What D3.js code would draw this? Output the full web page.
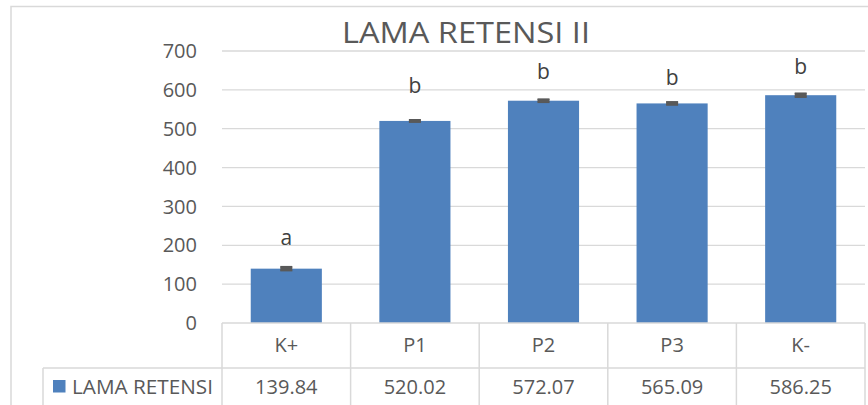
<!DOCTYPE html>
<html>
<head>
<meta charset="utf-8">
<script src="https://cdn.jsdelivr.net/npm/d3@7"></script>
<style>
  body { margin: 0; background: #fff; }
  svg { display: block; font-family: "Open Sans", sans-serif; }
</style>
</head>
<body>
<div id="chart"></div>
<script>
// data
const categories = ["K+", "P1", "P2", "P3", "K-"];
const values = [139.84, 520.02, 572.07, 565.09, 586.25];
const errors = [5, 3, 4, 4, 5];
const letters = ["a", "b", "b", "b", "b"];
// where each letter's baseline sits, in axis units (placed by hand in the original)
const letterAt = [200, 591, 628, 612, 640];
const yTicks = [0, 100, 200, 300, 400, 500, 600, 700];
const seriesName = "LAMA RETENSI";
const title = "LAMA RETENSI II";

const W = 868, H = 405;
const grid = "#d9d9d9", text = "#595959", bar = "#4f81bd";

const svg = d3.select("#chart").append("svg")
    .attr("width", W)
    .attr("height", H);

// outer chart frame
svg.append("path")
    .attr("d", `M11,${H}V6.5H${W}`)
    .attr("fill", "none")
    .attr("stroke", grid)
    .attr("stroke-width", 1.5);

const x = d3.scaleBand().domain(categories).range([222, 865]);
const y = d3.scaleLinear().domain([0, 700]).range([323, 51]);

// gridlines
svg.append("g")
    .selectAll("line")
    .data(yTicks.filter(d => d > 0))
    .join("line")
    .attr("x1", 222)
    .attr("x2", 865)
    .attr("y1", d => y(d))
    .attr("y2", d => y(d))
    .attr("stroke", grid)
    .attr("stroke-width", 1.3);

// y tick labels
svg.append("g")
    .selectAll("text")
    .data(yTicks)
    .join("text")
    .attr("x", 197)
    .attr("y", d => y(d))
    .attr("dy", "0.36em")
    .attr("text-anchor", "end")
    .attr("fill", text)
    .attr("font-size", 20)
    .text(d => d);

// bars
const bw = x.bandwidth() * 0.553;
svg.append("g")
    .selectAll("rect")
    .data(values)
    .join("rect")
    .attr("x", (d, i) => x(categories[i]) + (x.bandwidth() - bw) / 2)
    .attr("y", d => y(d))
    .attr("width", bw)
    .attr("height", d => y(0) - y(d))
    .attr("fill", bar);

// error bars
const eb = svg.append("g")
    .attr("stroke", "#595959")
    .attr("stroke-width", 1.6);
values.forEach((v, i) => {
    const cx = x(categories[i]) + x.bandwidth() / 2;
    eb.append("line")
        .attr("x1", cx).attr("x2", cx)
        .attr("y1", y(v + errors[i])).attr("y2", y(v - errors[i]));
    [v + errors[i], v - errors[i]].forEach(e => {
        eb.append("line")
            .attr("x1", cx - 6).attr("x2", cx + 6)
            .attr("y1", y(e)).attr("y2", y(e));
    });
    eb.append("rect")
        .attr("x", cx - 6)
        .attr("y", y(v + errors[i]))
        .attr("width", 12)
        .attr("height", y(v - errors[i]) - y(v + errors[i]))
        .attr("fill", "#595959")
        .attr("stroke", "none");
});

// significance letters
svg.append("g")
    .selectAll("text")
    .data(letters)
    .join("text")
    .attr("x", (d, i) => x(categories[i]) + x.bandwidth() / 2)
    .attr("y", (d, i) => y(letterAt[i]))
    .attr("text-anchor", "middle")
    .attr("fill", "#404040")
    .attr("font-size", 21)
    .text(d => d);

// title
svg.append("text")
    .attr("x", 466)
    .attr("y", 43)
    .attr("text-anchor", "middle")
    .attr("fill", text)
    .attr("font-size", 29.5)
    .attr("textLength", 248)
    .attr("lengthAdjust", "spacingAndGlyphs")
    .text(title);

// data table
const row1 = 323, row2 = 368;
const tbl = svg.append("g")
    .attr("stroke", grid)
    .attr("stroke-width", 1.5);
tbl.append("line").attr("x1", 222).attr("x2", 865).attr("y1", row1).attr("y2", row1);
tbl.append("line").attr("x1", 43).attr("x2", 865).attr("y1", row2).attr("y2", row2);
tbl.append("line").attr("x1", 43).attr("x2", 43).attr("y1", row2).attr("y2", H);
tbl.selectAll(".v")
    .data(categories.map(c => x(c)).concat([x.range()[1]]))
    .join("line")
    .attr("x1", d => d).attr("x2", d => d)
    .attr("y1", row1).attr("y2", H);

svg.append("g")
    .selectAll("text")
    .data(categories)
    .join("text")
    .attr("x", d => x(d) + x.bandwidth() / 2)
    .attr("y", 345)
    .attr("dy", "0.36em")
    .attr("text-anchor", "middle")
    .attr("fill", text)
    .attr("font-size", 20)
    .text(d => d);

svg.append("g")
    .selectAll("text")
    .data(values)
    .join("text")
    .attr("x", (d, i) => x(categories[i]) + x.bandwidth() / 2)
    .attr("y", 387)
    .attr("dy", "0.36em")
    .attr("text-anchor", "middle")
    .attr("fill", text)
    .attr("font-size", 20)
    .text(d => d.toFixed(2));

// legend key
svg.append("rect")
    .attr("x", 53)
    .attr("y", 380)
    .attr("width", 12.5)
    .attr("height", 12.5)
    .attr("fill", bar);
svg.append("text")
    .attr("x", 72)
    .attr("y", 387)
    .attr("dy", "0.36em")
    .attr("fill", text)
    .attr("font-size", 20)
    .attr("textLength", 141)
    .attr("lengthAdjust", "spacingAndGlyphs")
    .text(seriesName);
</script>
</body>
</html>
